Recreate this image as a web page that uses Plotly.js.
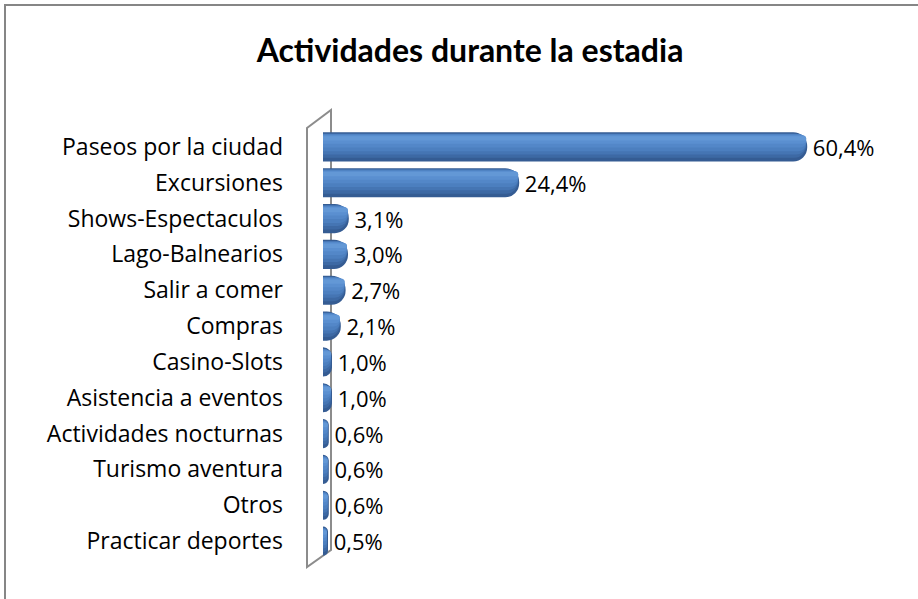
<!DOCTYPE html>
<html>
<head>
<meta charset="utf-8">
<script src="https://cdn.plot.ly/plotly-3.0.1.min.js"></script>
<style>html,body{margin:0;padding:0;background:#fff}#chart{width:918px;height:599px}</style>
</head>
<body>
<div id="chart"></div>
<script>
const categories = ["Paseos por la ciudad","Excursiones","Shows-Espectaculos","Lago-Balnearios","Salir a comer","Compras","Casino-Slots","Asistencia a eventos","Actividades nocturnas","Turismo aventura","Otros","Practicar deportes"];
const values = [60.4, 24.4, 3.1, 3.0, 2.7, 2.1, 1.0, 1.0, 0.6, 0.6, 0.6, 0.5];
const valueLabels = ["60,4%","24,4%","3,1%","3,0%","2,7%","2,1%","1,0%","1,0%","0,6%","0,6%","0,6%","0,5%"];
const title = "Actividades durante la estadia";

const LABEL_FONT = "'Open Sans', 'Noto Sans', 'DejaVu Sans', sans-serif";
const TITLE_FONT = "Lato, 'Open Sans', sans-serif";

// cylinder shading: overlay layers, darker at bottom, lighter towards the top
const shades = [
  {o: -0.38, w: 0.76, c: "#355C93", r: 13, lw: 2},
  {o: -0.375, w: 0.68, c: "#3D69A4", r: 12, lw: 0},
  {o: -0.37, w: 0.58, c: "#4575B3", r: 10, lw: 0},
  {o: -0.36, w: 0.48, c: "#4C7FBF", r: 8, lw: 0},
  {o: -0.345, w: 0.36, c: "#5387C8", r: 6, lw: 0},
  {o: -0.325, w: 0.24, c: "#5A8FD0", r: 4, lw: 0},
  {o: -0.30, w: 0.12, c: "#6398D6", r: 2, lw: 0}
];
const traces = shades.map((s, i) => ({
  type: "bar", orientation: "h", y: categories, x: values,
  width: s.w, offset: s.o,
  marker: {color: s.c, cornerradius: s.r, line: {color: s.c, width: s.lw}},
  text: i === 0 ? valueLabels : undefined,
  texttemplate: i === 0 ? "\u2009%{text}" : undefined,
  textposition: i === 0 ? "outside" : "none",
  constraintext: "none",
  cliponaxis: false,
  textfont: {family: LABEL_FONT, size: 22, color: "#000"},
  hoverinfo: i === 0 ? "y+text" : "skip"
}));

// plot area: x 323..883 px, y 129..559 px
const px = p => (p - 323) / 560;
const py = p => (559 - p) / 430;
const wallPath = `M ${px(307)},${py(567)} L ${px(307)},${py(128)} L ${px(331)},${py(110)} L ${px(331)},${py(550)} Z`;

const layout = {
  width: 918, height: 599,
  paper_bgcolor: "#fff", plot_bgcolor: "rgba(0,0,0,0)",
  margin: {l: 323, r: 35, t: 129, b: 40},
  showlegend: false, barmode: "overlay",
  title: {text: "<b>" + title + "</b>", font: {family: TITLE_FONT, size: 32, color: "#000"}, x: 0.512, xanchor: "center", y: 0.916, yanchor: "middle"},
  xaxis: {range: [0, 70], visible: false, fixedrange: true},
  yaxis: {autorange: "reversed", showgrid: false, zeroline: false, showline: false, ticks: "",
          ticklabelstandoff: 39, tickfont: {family: LABEL_FONT, size: 23, color: "#000"}, fixedrange: true},
  shapes: [
    {type: "path", xref: "paper", yref: "paper", path: wallPath, line: {color: "#8C8C8C", width: 2}, fillcolor: "rgba(255,255,255,0)", layer: "below"},
    {type: "rect", xref: "paper", yref: "paper", x0: px(5), x1: px(940), y0: py(620), y1: py(5), line: {color: "#868686", width: 2}, layer: "below"}
  ]
};
Plotly.newPlot("chart", traces, layout, {displayModeBar: false, staticPlot: true});
</script>
</body>
</html>
